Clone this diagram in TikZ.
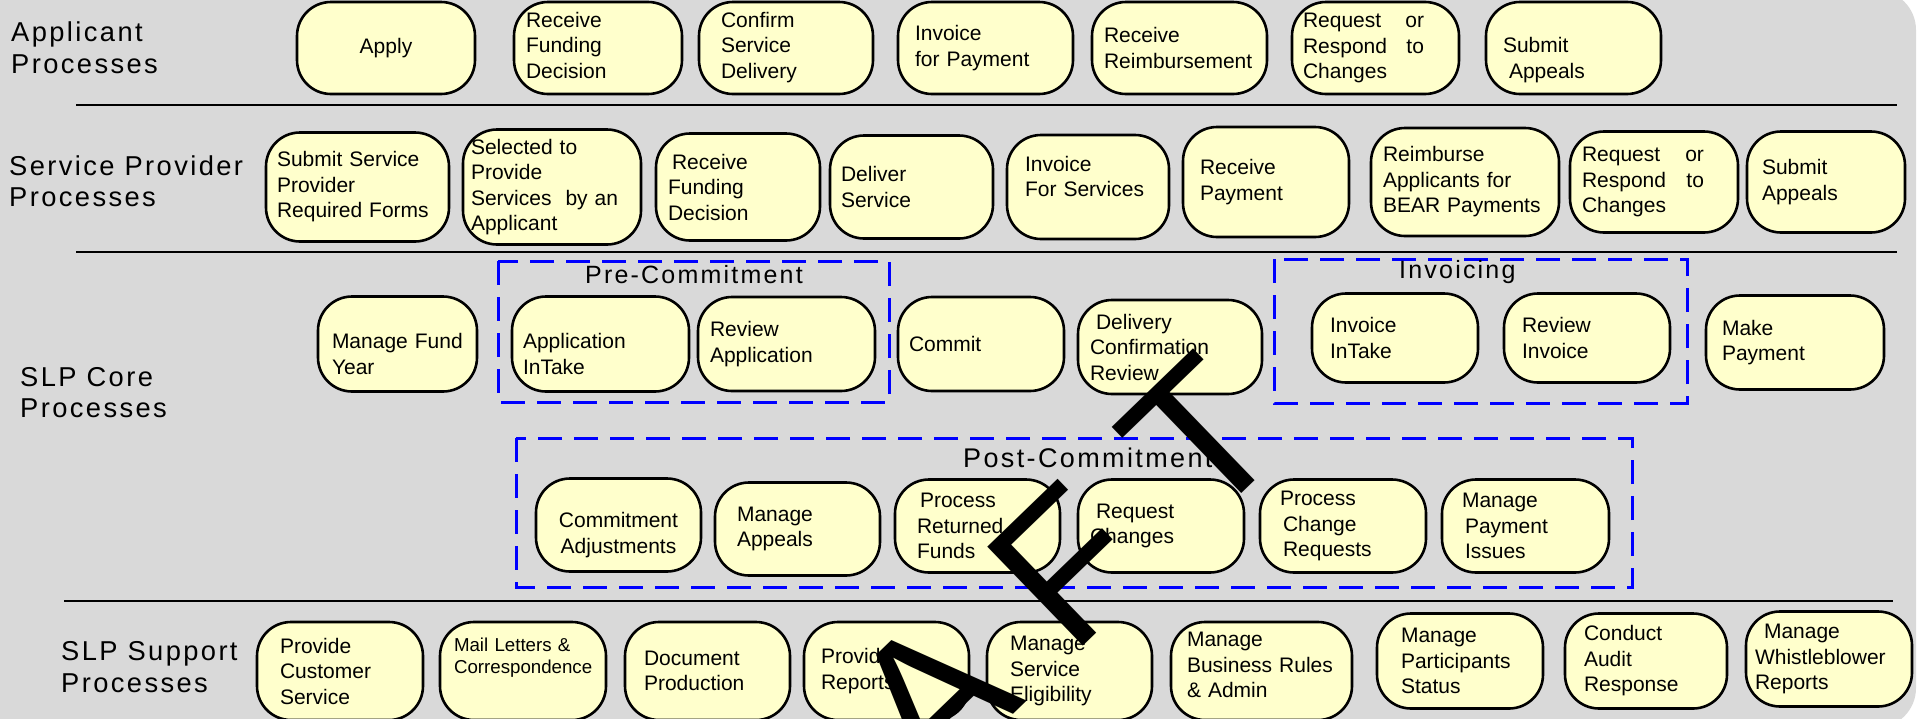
\documentclass[tikz,border=0pt]{standalone}
\usepackage{fontspec}
\setmainfont{Liberation Sans}
\newfontfamily\lblfont[LetterSpace=8.8]{Liberation Sans}
\newfontfamily\draftfont[LetterSpace=31]{Liberation Sans}
\usetikzlibrary{positioning}
\definecolor{bggray}{HTML}{D9D9D9}
\definecolor{procfill}{HTML}{FFFFCC}
\definecolor{grpblue}{HTML}{0000FF}
\hyphenpenalty=10000
\exhyphenpenalty=10000

\begin{document}
\begin{tikzpicture}[
  x=1pt, y=-1pt,
  proc/.style={draw, line width=2.6pt, rectangle, rounded corners=34pt, fill=procfill, font=\fontsize{21}{25.5}\selectfont, align=left, inner ysep=4pt, outer sep=0pt, minimum height=#1},
  proc/.default=93pt,
  lane/.style={font=\lblfont\fontsize{27.3}{31.5}\selectfont, align=left, anchor=west, inner sep=0pt},
  grptitle/.style={font=\lblfont\fontsize{25}{30}\selectfont, anchor=west, inner sep=0pt},
  grpbox/.style={draw=grpblue, line width=3pt, dash pattern=on 24pt off 12pt},
  divider/.style={line width=2pt}
]
\useasboundingbox (0,0) rectangle (1919,718);
\fill[bggray, rounded corners=40pt] (-60,-10) rectangle (1916,728);

% Lane separators
\draw[divider] (76,105) -- (1897,105);
\draw[divider] (76,252) -- (1897,252);
\draw[divider] (64,601) -- (1893,601);

% Applicant processes
\node[lane] (lblApp) at (11,47.5) {Applicant\\Processes};
\node[proc=92pt, align=center, text width=154pt, inner xsep=12pt] (apply) at (386,48) {Apply};
\node[proc=92pt, text width=144pt, inner xsep=12pt, text depth=57pt, right=39pt of apply] (fundDec1) {Receive\\Funding\\Decision};
\node[proc=92pt, text width=130pt, inner xsep=22pt, text depth=57pt, right=17pt of fundDec1] (confDel) {Confirm\\Service\\Delivery};
\node[proc=92pt, text width=141pt, inner xsep=17pt, right=25pt of confDel] (invPay) {Invoice\\for Payment};
\node[proc=92pt, text width=151pt, inner xsep=12pt, right=19pt of invPay] (recvReimb) {Receive\\Reimbursement};
\node[proc=92pt, text width=145pt, inner xsep=11pt, right=25pt of recvReimb] (chg1) {\makebox[121pt]{Request\hfill or}\\\makebox[121pt]{Respond\hfill to}\\Changes};
\node[proc=92pt, text width=141pt, inner xsep=17pt, text height=39pt, right=27pt of chg1] (appeal1) {Submit\\\hspace*{6pt}Appeals};

% Service provider processes
\node[lane] (lblSP) at (9,181) {Service Provider\\Processes};
\node[proc=109pt, text width=161pt, inner xsep=11pt] (spForms) at (357.5,187) {Submit Service\\Provider\\Required Forms};
\node[proc=115pt, text width=162pt, inner xsep=8pt, right=14pt of spForms] (selProv) {Selected to\\Provide\\Services\ \ by~an\\Applicant};
\node[proc=107pt, text width=140pt, inner xsep=12pt, right=15pt of selProv] (fundDec2) {\hspace*{4pt}Receive\\Funding\\Decision};
\node[proc=103pt, text width=141pt, inner xsep=11pt, right=10pt of fundDec2] (delServ) {Deliver\\Service};
\node[proc=104pt, text width=126pt, inner xsep=18pt, text depth=47pt, right=14pt of delServ] (invServ) {Invoice\\For Services};
\node[proc=110pt, text width=132pt, inner xsep=17pt, right=14pt of invServ, yshift=5pt] (recvPay) {Receive\\Payment};
\node[proc=108pt, text width=164pt, inner xsep=12pt, right=22pt of recvPay] (reimb) {Reimburse\\Applicants for\\BEAR Payments};
\node[proc=101pt, text width=144pt, inner xsep=12pt, right=11pt of reimb] (chg2) {\makebox[122pt]{Request\hfill or}\\\makebox[122pt]{Respond\hfill to}\\Changes};
\node[proc=101pt, text width=128pt, inner xsep=15pt, right=9pt of chg2] (appeal2) {Submit\\Appeals};

% SLP core processes
\node[lane] (lblCore) at (20,392.5) {SLP Core\\Processes};
\node[proc=95pt, text width=131pt, inner xsep=14pt, text height=35pt] (fundYear) at (397.5,344) {Manage~Fund\\Year};
\node[proc=95pt, text width=155pt, inner xsep=11pt, text height=35pt, right=35pt of fundYear] (appIntake) {Application\\InTake};
\node[proc=94pt, text width=153pt, inner xsep=12pt, right=9pt of appIntake] (revApp) {Review\\Application};
\node[proc=94pt, text width=144pt, inner xsep=11pt, right=23pt of revApp] (commit) {Commit};
\node[proc=94pt, text width=160pt, inner xsep=12pt, right=14pt of commit, yshift=-3pt] (delConf) {\hspace*{6pt}Delivery\\Confirmation\\Review};
\node[proc=89pt, text width=130pt, inner xsep=18pt, right=50pt of delConf, yshift=9pt] (invIntake) {Invoice\\InTake};
\node[proc=89pt, text width=130pt, inner xsep=18pt, right=26pt of invIntake] (revInv) {Review\\Invoice};
\node[proc=94pt, text width=146pt, inner xsep=16pt, right=36pt of revInv, yshift=-4.5pt] (makePay) {Make\\Payment};

% Groups
\draw[grpbox] (498,261) rectangle (889,402);
\node[grptitle] (preTitle) at (585,275) {Pre-Commitment};
\draw[grpbox] (1274,259) rectangle (1687,403);
\node[grptitle] (invTitle) at (1399,272) {Invoicing};
\draw[grpbox] (516,438) rectangle (1632,587);
\node[grptitle, font=\lblfont\fontsize{27}{32}\selectfont] (postTitle) at (963,458) {Post-Commitment};

% Post-commitment
\node[proc, align=center, text width=141pt, inner xsep=12pt, text height=35pt] (commAdj) at (618.5,525) {Commitment\\Adjustments};
\node[proc, text width=121pt, inner xsep=22pt, right=14pt of commAdj, yshift=-4pt] (manAppeals) {Manage\\Appeals};
\node[proc, text width=121pt, inner xsep=22pt, right=15pt of manAppeals, yshift=3pt] (retFunds) {\hspace*{3pt}Process\\Returned\\Funds};
\node[proc, text width=142pt, inner xsep=12pt, right=18pt of retFunds] (reqChanges) {\hspace*{6pt}Request\\Changes};
\node[proc, text width=126pt, inner xsep=20pt, right=16pt of reqChanges] (procChg) {Process\\\hspace*{3pt}Change\\\hspace*{3pt}Requests};
\node[proc, text width=127pt, inner xsep=20pt, right=16pt of procChg] (payIssues) {Manage\\\hspace*{3pt}Payment\\\hspace*{3pt}Issues};

% SLP support processes
\node[lane] (lblSup) at (61,667) {SLP Support\\Processes};
\node[proc=98pt, text width=120pt, inner xsep=23pt] (custServ) at (340,671) {Provide\\Customer\\Service};
\node[proc=98pt, text width=138pt, inner xsep=14pt, font=\fontsize{18.7}{22}\selectfont, text depth=52pt, right=17pt of custServ] (mailLet) {Mail Letters \&\\Correspondence};
\node[proc=98pt, text width=127pt, inner xsep=19pt, right=19pt of mailLet] (docProd) {Document\\Production};
\node[proc=98pt, text width=131pt, inner xsep=17pt, right=14pt of docProd] (provRep) {Provide\\Reports};
\node[proc=98pt, text width=119pt, inner xsep=23pt, right=18pt of provRep] (servElig) {Manage\\Service\\Eligibility};
\node[proc=98pt, text width=149pt, inner xsep=16pt, text depth=63pt, right=19pt of servElig] (busRules) {Manage\\Business~Rules\\\& Admin};
\node[proc=95pt, text width=118pt, inner xsep=24pt, right=25pt of busRules, yshift=10pt] (partStat) {Manage\\Participants\\Status};
\node[proc=95pt, text width=124pt, inner xsep=19pt, right=22pt of partStat] (auditResp) {Conduct\\Audit\\Response};
\node[proc=95pt, text width=148pt, inner xsep=9pt, right=19pt of auditResp, yshift=2pt] (whistle) {\hspace*{9pt}Manage\\Whistleblower\\Reports};

% Watermark
\node[rotate=44, anchor=base west, inner sep=0pt, font=\draftfont\fontsize{200}{240}\selectfont] (draft) at (634,1080) {DRAFT};
\end{tikzpicture}
\end{document}
